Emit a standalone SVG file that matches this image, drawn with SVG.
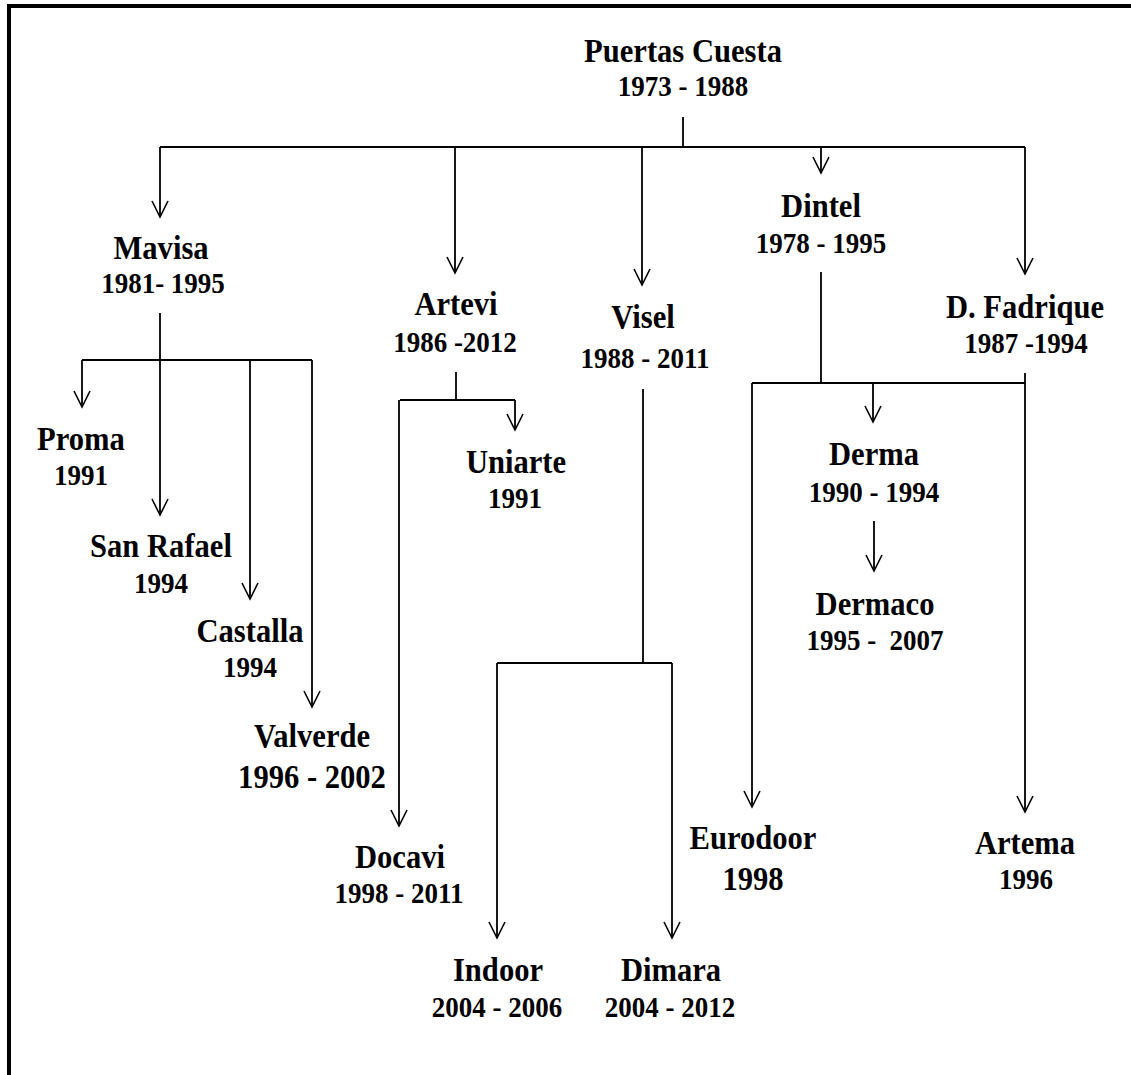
<svg xmlns="http://www.w3.org/2000/svg" width="1131" height="1075" viewBox="0 0 1131 1075">
<style>
  text { font-family: "Liberation Serif", "Times New Roman", serif; font-weight: bold; fill: #000; text-anchor: middle; white-space: pre; }
  .n { font-size: 34px; }
  .y { font-size: 30px; }
  .yb { font-size: 34px; }
  .c { fill: none; stroke: #000; stroke-width: 1.8; }
  .a { marker-end: url(#arr); }
</style>
<defs>
  <marker id="arr" viewBox="-18 -10 20 20" refX="0" refY="0" markerWidth="20" markerHeight="20" markerUnits="userSpaceOnUse" orient="auto" overflow="visible">
    <path d="M-16,-8 L0,0 L-16,8" fill="none" stroke="#000" stroke-width="1.6"/>
  </marker>
</defs>
<rect width="1131" height="1075" fill="#fff"/>
<path d="M9,1080 V6 H1136" fill="none" stroke="#000" stroke-width="4"/>

<g id="connectors">
  <path class="c" d="M683,117 V147"/>
  <path class="c" d="M160,147 H1025"/>
  <path class="c a" d="M160,147 V217"/>
  <path class="c a" d="M455,147 V273"/>
  <path class="c a" d="M642,147 V285"/>
  <path class="c a" d="M821,147 V173"/>
  <path class="c a" d="M1025,147 V274"/>

  <path class="c a" d="M160,313 V515"/>
  <path class="c" d="M82,360 H312"/>
  <path class="c a" d="M82,360 V407"/>
  <path class="c a" d="M250,360 V599"/>
  <path class="c a" d="M312,360 V707"/>

  <path class="c" d="M456,372 V400"/>
  <path class="c" d="M400,400 H515"/>
  <path class="c a" d="M515,400 V430"/>
  <path class="c a" d="M399,400 V826"/>

  <path class="c" d="M643,389 V663"/>
  <path class="c" d="M497,663 H672"/>
  <path class="c a" d="M497,663 V938"/>
  <path class="c a" d="M672,663 V938"/>

  <path class="c" d="M821,272 V383"/>
  <path class="c" d="M752,383 H1025"/>
  <path class="c" d="M1025,373 V383"/>
  <path class="c a" d="M752,383 V807"/>
  <path class="c a" d="M873,383 V422"/>
  <path class="c a" d="M1025,383 V812"/>

  <path class="c a" d="M874,521 V571"/>
</g>

<g id="puertas-cuesta">
  <text class="n" transform="translate(683,62) scale(0.9,1)">Puertas Cuesta</text>
  <text class="y" transform="translate(683,96) scale(0.9,1)">1973 - 1988</text>
</g>
<g id="mavisa">
  <text class="n" transform="translate(161,259) scale(0.9,1)">Mavisa</text>
  <text class="y" transform="translate(163,293) scale(0.9,1)">1981- 1995</text>
</g>
<g id="artevi">
  <text class="n" transform="translate(456,315) scale(0.9,1)">Artevi</text>
  <text class="y" transform="translate(455,352) scale(0.9,1)">1986 -2012</text>
</g>
<g id="visel">
  <text class="n" transform="translate(643,328) scale(0.9,1)">Visel</text>
  <text class="y" transform="translate(645,368) scale(0.9,1)">1988 - 2011</text>
</g>
<g id="dintel">
  <text class="n" transform="translate(821,217) scale(0.9,1)">Dintel</text>
  <text class="y" transform="translate(821,253) scale(0.9,1)">1978 - 1995</text>
</g>
<g id="d-fadrique">
  <text class="n" transform="translate(1025,318) scale(0.9,1)">D. Fadrique</text>
  <text class="y" transform="translate(1026,353) scale(0.9,1)">1987 -1994</text>
</g>
<g id="proma">
  <text class="n" transform="translate(81,450) scale(0.9,1)">Proma</text>
  <text class="y" transform="translate(81,485) scale(0.9,1)">1991</text>
</g>
<g id="san-rafael">
  <text class="n" transform="translate(161,557) scale(0.9,1)">San Rafael</text>
  <text class="y" transform="translate(161,593) scale(0.9,1)">1994</text>
</g>
<g id="castalla">
  <text class="n" transform="translate(250,642) scale(0.9,1)">Castalla</text>
  <text class="y" transform="translate(250,677) scale(0.9,1)">1994</text>
</g>
<g id="valverde">
  <text class="n" transform="translate(312,747) scale(0.9,1)">Valverde</text>
  <text class="yb" transform="translate(312,788) scale(0.9,1)">1996 - 2002</text>
</g>
<g id="uniarte">
  <text class="n" transform="translate(516,473) scale(0.9,1)">Uniarte</text>
  <text class="y" transform="translate(515,508) scale(0.9,1)">1991</text>
</g>
<g id="docavi">
  <text class="n" transform="translate(400,868) scale(0.9,1)">Docavi</text>
  <text class="y" transform="translate(399,903) scale(0.9,1)">1998 - 2011</text>
</g>
<g id="derma">
  <text class="n" transform="translate(874,465) scale(0.9,1)">Derma</text>
  <text class="y" transform="translate(874,502) scale(0.9,1)">1990 - 1994</text>
</g>
<g id="dermaco">
  <text class="n" transform="translate(875,615) scale(0.9,1)">Dermaco</text>
  <text class="y" transform="translate(875,650) scale(0.9,1)">1995 -  2007</text>
</g>
<g id="eurodoor">
  <text class="n" transform="translate(753,849) scale(0.9,1)">Eurodoor</text>
  <text class="yb" transform="translate(753,890) scale(0.9,1)">1998</text>
</g>
<g id="artema">
  <text class="n" transform="translate(1025,854) scale(0.9,1)">Artema</text>
  <text class="y" transform="translate(1026,889) scale(0.9,1)">1996</text>
</g>
<g id="indoor">
  <text class="n" transform="translate(498,981) scale(0.9,1)">Indoor</text>
  <text class="y" transform="translate(497,1017) scale(0.9,1)">2004 - 2006</text>
</g>
<g id="dimara">
  <text class="n" transform="translate(671,981) scale(0.9,1)">Dimara</text>
  <text class="y" transform="translate(670,1017) scale(0.9,1)">2004 - 2012</text>
</g>
</svg>
